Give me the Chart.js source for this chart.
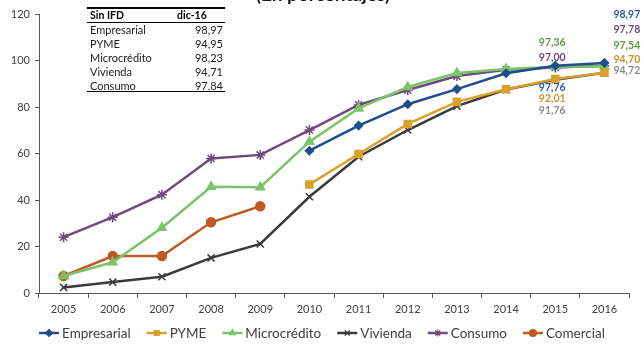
<!DOCTYPE html>
<html>
<head>
<meta charset="utf-8">
<script src="https://cdn.jsdelivr.net/npm/chart.js@4/dist/chart.umd.min.js"></script>
<style>
  html, body { margin: 0; padding: 0; background: #fff; }
  #wrap { width: 644px; height: 348px; }
</style>
</head>
<body>
<div id="wrap"><canvas id="chart" width="644" height="348"></canvas></div>
<script>
var years = ['2005', '2006', '2007', '2008', '2009', '2010', '2011', '2012', '2013', '2014', '2015', '2016'];

var empresarial = [null, null, null, null, null, 61.2, 72.0, 81.2, 87.7, 94.5, 97.76, 98.97];
var pyme = [null, null, null, null, null, 46.7, 59.8, 72.7, 82.2, 87.6, 92.01, 94.70];
var microcredito = [7.3, 13.2, 28.1, 45.7, 45.5, 65.1, 79.4, 88.6, 94.6, 96.3, 97.36, 97.54];
var vivienda = [2.4, 4.7, 7.0, 15.1, 21.1, 41.4, 58.6, 70.1, 80.4, 87.5, 91.76, 94.72];
var consumo = [24.0, 32.6, 42.3, 57.9, 59.4, 70.1, 80.9, 87.3, 93.3, 96.0, 97.00, 97.78];
var comercial = [7.3, 15.9, 15.9, 30.4, 37.3, null, null, null, null, null, null, null];

var yTicks = [0, 20, 40, 60, 80, 100, 120];

// small table in the corner
var tableHead = ['Sin IFD', 'dic-16'];
var tableNames = ['Empresarial', 'PYME', 'Microcrédito', 'Vivienda', 'Consumo'];
var tableValues = ['98,97', '94,95', '98,23', '94,71', '97,84'];

var titleText = '(En porcentajes)';

// which points get a value label: [dataset, year index, dx, dy, align, colour]
var valueLabels = [
  [2, 10, -3, -24, 'center', '#5b9b45'],
  [4, 10, -3, -10, 'center', '#6e4a7e'],
  [0, 10, -3, 22, 'center', '#2e5a9c'],
  [1, 10, -3, 20, 'center', '#c8912a'],
  [3, 10, -3, 31, 'center', '#8c8c8c'],
  [0, 11, 9, -48, 'left', '#2e5a9c'],
  [4, 11, 9, -36, 'left', '#6e4a7e'],
  [2, 11, 9, -21, 'left', '#5b9b45'],
  [1, 11, 9, -13, 'left', '#c8912a'],
  [3, 11, 9, -2, 'left', '#8c8c8c']
];

var FONT = 'Lato, "Open Sans", sans-serif';

function fmt(v) {
  return v.toFixed(2).replace('.', ',');
}

function serie(label, data, color, style, radius) {
  return {
    label: label,
    data: data,
    borderColor: color,
    backgroundColor: color,
    pointBackgroundColor: color,
    pointBorderColor: color,
    pointStyle: style,
    pointRadius: radius,
    pointBorderWidth: 1.5,
    borderWidth: 2.5,
    tension: 0,
    spanGaps: false
  };
}

var extrasPlugin = {
  id: 'extras',
  afterDraw: function(chart) {
    var ctx = chart.ctx;
    ctx.save();

    // title, almost all of it is above the picture
    ctx.fillStyle = '#1a1a1a';
    ctx.font = 'bold 19px ' + FONT;
    ctx.textAlign = 'center';
    ctx.textBaseline = 'alphabetic';
    ctx.fillText(titleText, 323, 0.5);

    // table
    var tx0 = 87, tx1 = 225;
    ctx.strokeStyle = '#000';
    ctx.lineWidth = 2;
    ctx.beginPath(); ctx.moveTo(tx0, 8); ctx.lineTo(tx1, 8); ctx.stroke();
    ctx.lineWidth = 1;
    ctx.beginPath(); ctx.moveTo(tx0, 22.5); ctx.lineTo(tx1, 22.5); ctx.stroke();
    ctx.beginPath(); ctx.moveTo(tx0, 91.5); ctx.lineTo(tx1, 91.5); ctx.stroke();
    ctx.textBaseline = 'middle';
    ctx.fillStyle = '#000';
    ctx.font = 'bold 10.5px ' + FONT;
    ctx.textAlign = 'left';
    ctx.fillText(tableHead[0], 90, 15.5);
    ctx.fillText(tableHead[1], 177, 15.5);
    ctx.font = '11px ' + FONT;
    ctx.fillStyle = '#222';
    for (var r = 0; r < tableNames.length; r++) {
      var ry = 30 + r * 14;
      ctx.textAlign = 'left';
      ctx.fillText(tableNames[r], 90, ry);
      ctx.textAlign = 'right';
      ctx.fillText(tableValues[r], 223, ry);
    }

    // value labels near the end of the lines
    ctx.font = 'bold 10.5px ' + FONT;
    valueLabels.forEach(function(l) {
      var pt = chart.getDatasetMeta(l[0]).data[l[1]];
      var v = chart.data.datasets[l[0]].data[l[1]];
      ctx.fillStyle = l[5];
      ctx.textAlign = l[4];
      ctx.fillText(fmt(v), pt.x + l[2], pt.y + l[3]);
    });

    // legend: short line with marker, then the name
    ctx.font = '13.5px ' + FONT;
    ctx.textAlign = 'left';
    var sets = chart.data.datasets;
    var lineW = 20, gap = 3, itemGap = 16;
    var total = 0;
    sets.forEach(function(ds, i) {
      total += lineW + gap + ctx.measureText(ds.label).width + (i < sets.length - 1 ? itemGap : 0);
    });
    var x = 322 - total / 2;
    var ly = 333;
    sets.forEach(function(ds) {
      ctx.strokeStyle = ds.borderColor;
      ctx.fillStyle = ds.borderColor;
      ctx.lineWidth = 2.5;
      ctx.beginPath(); ctx.moveTo(x, ly); ctx.lineTo(x + lineW, ly); ctx.stroke();
      ctx.lineWidth = 1.2;
      Chart.helpers.drawPoint(ctx, { pointStyle: ds.pointStyle, radius: Math.min(ds.pointRadius, 3.5), rotation: 0, borderWidth: 1.2 }, x + lineW / 2, ly);
      ctx.fillStyle = '#404040';
      ctx.fillText(ds.label, x + lineW + gap, ly + 1);
      x += lineW + gap + ctx.measureText(ds.label).width + itemGap;
    });

    ctx.restore();
  }
};

var ctx = document.getElementById('chart').getContext('2d');
var chart = new Chart(ctx, {
  type: 'line',
  data: {
    labels: years,
    datasets: [
      serie('Empresarial', empresarial, '#1f4e8c', 'rectRot', 4),
      serie('PYME', pyme, '#d9a02b', 'rect', 5),
      serie('Microcrédito', microcredito, '#7dc36a', 'triangle', 5),
      serie('Vivienda', vivienda, '#3a3a3a', 'crossRot', 5),
      serie('Consumo', consumo, '#6e4a7e', 'star', 5),
      serie('Comercial', comercial, '#c05a22', 'circle', 4.5)
    ]
  },
  options: {
    responsive: false,
    animation: false,
    layout: { padding: { top: 14, right: 15, left: 0, bottom: 0 } },
    plugins: {
      legend: { display: false },
      tooltip: { enabled: false }
    },
    scales: {
      x: {
        offset: true,
        grid: { display: true, drawOnChartArea: false, offset: true, tickLength: 5, color: '#595959' },
        border: { color: '#595959', width: 1 },
        ticks: { color: '#404040', font: { family: FONT, size: 11 }, padding: 5, maxRotation: 0 },
        afterFit: function(s) { s.height = 55; }
      },
      y: {
        min: 0,
        max: 120,
        afterBuildTicks: function(s) { s.ticks = yTicks.map(function(v) { return { value: v }; }); },
        grid: { display: true, drawOnChartArea: false, tickLength: 4, color: '#595959' },
        border: { color: '#595959', width: 1 },
        ticks: { color: '#404040', font: { family: FONT, size: 11 }, padding: 5 },
        afterFit: function(s) { s.width = 39; }
      }
    }
  },
  plugins: [extrasPlugin]
});
</script>
</body>
</html>
